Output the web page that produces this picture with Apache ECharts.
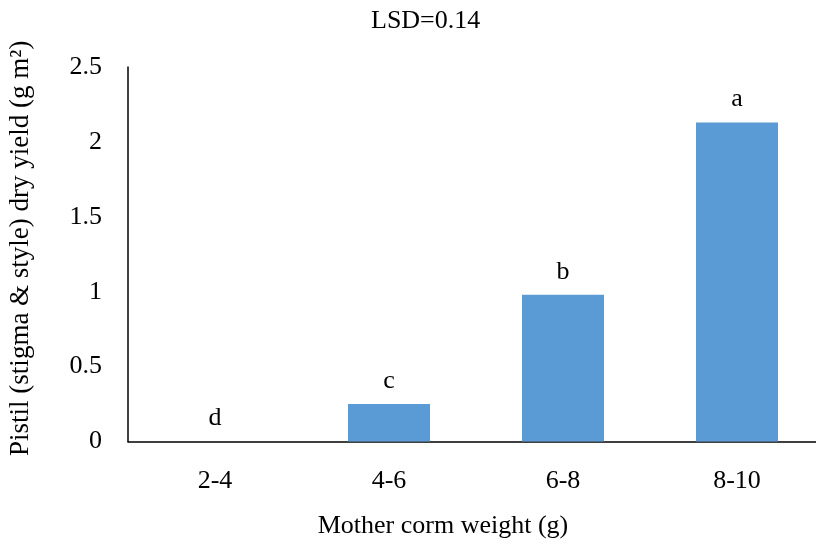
<!DOCTYPE html>
<html>
<head>
<meta charset="utf-8">
<script src="https://cdn.jsdelivr.net/npm/echarts@6/dist/echarts.min.js"></script>
<style>
  html, body { margin: 0; padding: 0; background: #fff; overflow: hidden; }
  /* the plot runs a little past the right edge, as in the source picture */
  #chart { width: 824px; height: 544px; }
</style>
</head>
<body>
<div id="chart"></div>
<script>
// data
const categories = ["2-4", "4-6", "6-8", "8-10"];
const yieldValues = [0, 0.25, 0.98, 2.13];
const groupLetters = ["d", "c", "b", "a"];

const font = "Liberation Serif, Times New Roman, serif";
const fs = 26;
const chart = echarts.init(document.getElementById("chart"));

chart.setOption({
    animation: false,
    textStyle: { fontFamily: font },
    title: {
        text: "LSD=0.14",
        left: 366,
        top: 3,
        textStyle: { fontFamily: font, fontSize: fs, fontWeight: "normal", color: "#000" }
    },
    grid: {
        left: 128,
        right: 0,
        top: 67,
        bottom: 102.5,
        outerBoundsMode: "none"
    },
    xAxis: {
        type: "category",
        data: categories,
        name: "Mother corm weight (g)",
        nameLocation: "middle",
        nameGap: 72,
        nameTextStyle: { fontFamily: font, fontSize: fs, color: "#000", padding: [0, 66, 0, 0] },
        axisLine: { lineStyle: { color: "#000", width: 1.5 } },
        axisTick: { show: false },
        axisLabel: { margin: 27, fontFamily: font, fontSize: fs, color: "#000" }
    },
    yAxis: {
        type: "value",
        min: 0,
        max: 2.5,
        interval: 0.5,
        name: "Pistil (stigma & style) dry yield (g m\u00B2)",
        nameLocation: "middle",
        nameGap: 94,
        nameTextStyle: { fontFamily: font, fontSize: 27, color: "#000", padding: [0, 0, 0, 12] },
        axisLine: { show: true, lineStyle: { color: "#000", width: 1.5 } },
        axisTick: { show: false },
        splitLine: { show: false },
        axisLabel: { margin: 26, fontFamily: font, fontSize: fs, color: "#000" }
    },
    series: [{
        type: "bar",
        data: yieldValues,
        barWidth: 82,
        itemStyle: { color: "#5B9BD5" },
        label: {
            show: true,
            position: "top",
            distance: 10,
            fontFamily: font,
            fontSize: fs,
            color: "#000",
            formatter: function (p) {
                return groupLetters[p.dataIndex];
            }
        }
    }]
});
</script>
</body>
</html>
